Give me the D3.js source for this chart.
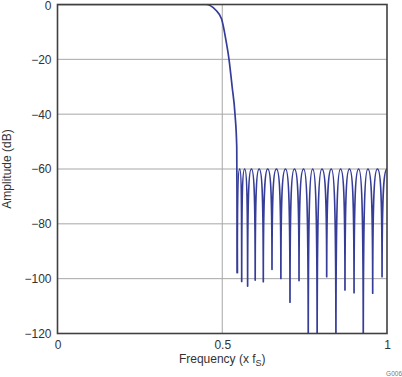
<!DOCTYPE html>
<html>
<head>
<meta charset="utf-8">
<script src="https://cdn.jsdelivr.net/npm/d3@7"></script>
<style>
  html, body { margin: 0; padding: 0; background: #fff; }
  text { font-family: "Liberation Sans", Arial, sans-serif; fill: #333; }
</style>
</head>
<body>
<div id="wrapper"></div>
<script>
// passband + transition band
const passFreq = [0, 0.30, 0.45, 0.465, 0.48, 0.498, 0.511, 0.5205, 0.530, 0.5387, 0.5440, 0.5457];
const passDb   = [0, 0, 0, -0.5, -2, -5.3, -12.9, -20, -30, -40, -52, -98];

// stopband: nulls and lobe peaks
const nullFreq = [0.5457, 0.559, 0.577, 0.600, 0.6246, 0.651, 0.678, 0.7056, 0.733, 0.761,
                  0.788, 0.817, 0.845, 0.8725, 0.900, 0.928, 0.9566, 0.985];
const nullDb   = [-98, -101, -102.7, -100.5, -101.1, -96.6, -99.9, -108.6, -100.7, -125,
                  -125, -99.3, -125, -104.1, -105.1, -125, -105.3, -99.3];
const peakFreq = [0.553, 0.568, 0.5885, 0.612, 0.638, 0.6645, 0.692, 0.719, 0.747, 0.7745,
                  0.8025, 0.831, 0.859, 0.886, 0.914, 0.942, 0.971, 1.0];
const peakDb   = [-60, -60, -60, -60, -60, -60, -60, -60, -60, -60,
                  -60, -60, -60, -60, -60, -60, -60, -60];

const xTicks = [0, 0.5, 1];
const xTickLabels = ["0", "0.5", "1"];
const yTicks = [0, -20, -40, -60, -80, -100, -120];
const yGrid = [-20, -40, -60, -80, -100];
const xGrid = [0.5];

const width = 402, height = 377;
const margin = { top: 4.5, right: 15, bottom: 43.5, left: 57.5 };
const boundedWidth = width - margin.left - margin.right;
const boundedHeight = height - margin.top - margin.bottom;

const svg = d3.select("#wrapper").append("svg")
  .attr("width", width)
  .attr("height", height);

const bounds = svg.append("g")
  .attr("transform", `translate(${margin.left},${margin.top})`);

const xScale = d3.scaleLinear().domain([0, 1]).range([0, boundedWidth]);
const yScale = d3.scaleLinear().domain([-120, 0]).range([boundedHeight, 0]);

bounds.append("clipPath").attr("id", "plot-clip")
  .append("rect")
  .attr("width", boundedWidth)
  .attr("height", boundedHeight);

// grid
bounds.append("g").selectAll("line").data(yGrid).join("line")
  .attr("x1", 0).attr("x2", boundedWidth)
  .attr("y1", d => yScale(d)).attr("y2", d => yScale(d))
  .attr("stroke", "#a6a6a6").attr("stroke-width", 1);
bounds.append("g").selectAll("line").data(xGrid).join("line")
  .attr("x1", d => xScale(d)).attr("x2", d => xScale(d))
  .attr("y1", 0).attr("y2", boundedHeight)
  .attr("stroke", "#a6a6a6").attr("stroke-width", 1);

// lobe curve: vertical out of a null, flat over the peak
function curveLobe(context) {
  let x0, y0, n;
  return {
    areaStart() {}, areaEnd() {},
    lineStart() { n = 0; },
    lineEnd() {},
    point(x, y) {
      if (n++ === 0) context.moveTo(x, y);
      else if (y < y0) {
        context.bezierCurveTo(x0, y0 + (y - y0) * 0.85, x0 + (x - x0) * 0.45, y, x, y);
      } else {
        context.bezierCurveTo(x0 + (x - x0) * 0.55, y0, x, y - (y - y0) * 0.85, x, y);
      }
      x0 = x; y0 = y;
    }
  };
}

const passData = passFreq.map((f, i) => ({ f, db: passDb[i] }));
const stopData = [];
nullFreq.forEach((f, i) => {
  stopData.push({ f, db: nullDb[i] });
  stopData.push({ f: peakFreq[i], db: peakDb[i] });
});

const curveColor = "#363d98";
const plot = bounds.append("g").attr("clip-path", "url(#plot-clip)");

const passLine = d3.line()
  .x(d => xScale(d.f))
  .y(d => yScale(d.db))
  .curve(d3.curveMonotoneX);
plot.append("path")
  .attr("d", passLine(passData))
  .attr("fill", "none")
  .attr("stroke", curveColor)
  .attr("stroke-width", 1.7);

const stopLine = d3.line()
  .x(d => xScale(d.f))
  .y(d => yScale(d.db))
  .curve(curveLobe);
plot.append("path")
  .attr("d", stopLine(stopData))
  .attr("fill", "none")
  .attr("stroke", curveColor)
  .attr("stroke-width", 1.7)
  .attr("stroke-linejoin", "round");

// frame
bounds.append("rect")
  .attr("width", boundedWidth)
  .attr("height", boundedHeight)
  .attr("fill", "none")
  .attr("stroke", "#404040")
  .attr("stroke-width", 1.6);

// axes (labels only)
const yAxis = bounds.append("g")
  .call(d3.axisLeft(yScale).tickValues(yTicks).tickSize(0).tickPadding(6));
const xAxis = bounds.append("g")
  .attr("transform", `translate(0,${boundedHeight})`)
  .call(d3.axisBottom(xScale).tickValues(xTicks).tickSize(0).tickPadding(7)
    .tickFormat((d, i) => xTickLabels[i]));
[yAxis, xAxis].forEach(a => {
  a.select(".domain").remove();
  a.selectAll("text")
    .style("font-family", "'Liberation Sans', Arial, sans-serif")
    .style("font-size", "12px")
    .attr("fill", "#333");
});
// top "0" sits right at the edge; keep it inside
yAxis.selectAll(".tick text").filter(d => d === 0).attr("dy", "0.42em");

// axis titles
const xTitle = svg.append("text")
  .attr("x", margin.left + boundedWidth / 2)
  .attr("y", 363)
  .attr("text-anchor", "middle")
  .style("font-size", "12px");
xTitle.append("tspan").text("Frequency (x f");
xTitle.append("tspan").text("S").attr("dy", 3).style("font-size", "9px");
xTitle.append("tspan").text(")").attr("dy", -3);

svg.append("text")
  .attr("transform", `translate(11,${margin.top + boundedHeight / 2}) rotate(-90)`)
  .attr("text-anchor", "middle")
  .style("font-size", "12px")
  .text("Amplitude (dB)");

svg.append("text")
  .attr("x", 402)
  .attr("y", 376)
  .attr("text-anchor", "end")
  .style("font-size", "6.5px")
  .style("fill", "#777")
  .text("G006");
</script>
</body>
</html>
